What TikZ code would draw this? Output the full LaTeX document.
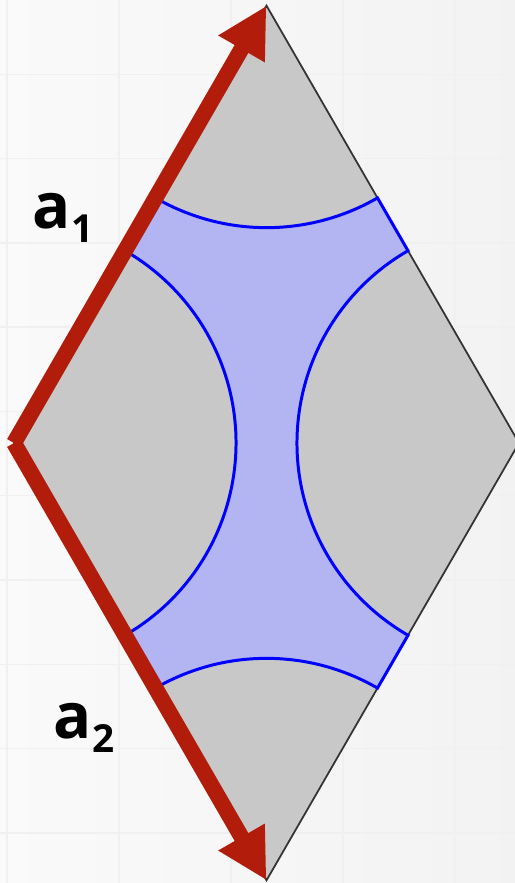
\documentclass[tikz,border=0pt]{standalone}
\usepackage{fontspec}
\setmainfont{Open Sans}
\usetikzlibrary{arrows.meta,calc}
\definecolor{cellgray}{HTML}{C8C8C8}
\definecolor{cellblue}{HTML}{B3B4F2}
\definecolor{vecred}{HTML}{B11C0B}
\tikzset{
  lattvec/.style={vecred, line width=4.5pt, -{Triangle[length=0.5cm, width=0.5cm]}},
  veclabel/.style={font=\bfseries\fontsize{18}{18}\selectfont, inner sep=0pt},
  gridline/.style={black!6, line width=0.4pt}
}
\begin{document}
\begin{tikzpicture}
                    \useasboundingbox (0,0) rectangle (5.15,8.83);
                    % Background
                    \shade[left color=black!2, right color=black!5] (0,0) rectangle (5.15,8.83);
                    \foreach \y in {0.50,1.343,...,8.2} \draw[gridline] (0,\y) -- (5.15,\y);
                    \foreach \x in {0.07,1.19,...,5.0} \draw[gridline] (\x,0) -- (\x,8.83);
                    % Corners
                    \pgfmathsetmacro{\side}{5.05}
                    \pgfmathsetmacro{\rad}{2.22}
                    \coordinate (L) at (0.14,4.40);
                    \coordinate (T) at ($(L)+(60:\side)$);
                    \coordinate (B) at ($(L)+(-60:\side)$);
                    \coordinate (R) at ($(T)+(-60:\side)$);
                    % Cell
                    \filldraw[fill=cellgray, draw=black!80, line width=0.5pt] (L) -- (T) -- (R) -- (B) -- cycle;
                    % Region between the arcs
                    \filldraw[fill=cellblue, draw=blue, line width=0.85pt]
                      (T) ++(240:\rad) arc[start angle=240, end angle=300, radius=\rad]
                      -- ($(R)+(120:\rad)$) arc[start angle=120, end angle=240, radius=\rad]
                      -- ($(B)+(60:\rad)$) arc[start angle=60, end angle=120, radius=\rad]
                      -- ($(L)+(-60:\rad)$) arc[start angle=-60, end angle=60, radius=\rad]
                      -- cycle;
                    % Lattice vectors
                    \draw[lattvec] (L) -- (T);
                    \draw[lattvec] (L) -- (B);
                    \node[veclabel] (a1) at (0.63,6.65) {a\raisebox{-1.4mm}{\fontsize{11}{11}\selectfont 1}};
                    \node[veclabel] (a2) at (0.84,1.55) {a\raisebox{-1.4mm}{\fontsize{11}{11}\selectfont 2}};
                  
                \end{tikzpicture}
\end{document}
